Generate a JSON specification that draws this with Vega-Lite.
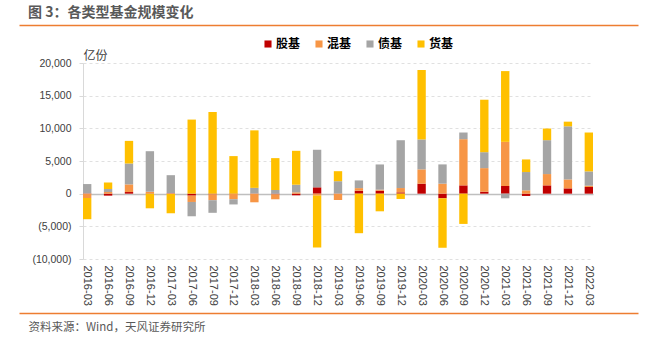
{
  "$schema": "https://vega.github.io/schema/vega-lite/v6.json",
  "width": 510,
  "height": 196,
  "autosize": "none",
  "padding": {"left": 83, "top": 63, "right": 73, "bottom": 80},
  "background": "white",
  "config": {"view": {"stroke": null}, "font": "Liberation Sans"},
  "title": {
    "text": "图 3：各类型基金规模变化",
    "anchor": "start",
    "frame": "group",
    "dx": -55,
    "offset": 5,
    "font": "Noto Sans CJK SC",
    "fontSize": 14,
    "fontWeight": "bold",
    "color": "#595959"
  },
  "data": {
    "values": [
      {"date": "2016-03", "type": "股基", "value": 50}, {"date": "2016-03", "type": "混基", "value": -660}, {"date": "2016-03", "type": "债基", "value": 1420}, {"date": "2016-03", "type": "货基", "value": -3250},
      {"date": "2016-06", "type": "股基", "value": -300}, {"date": "2016-06", "type": "混基", "value": 250}, {"date": "2016-06", "type": "债基", "value": 460}, {"date": "2016-06", "type": "货基", "value": 1000},
      {"date": "2016-09", "type": "股基", "value": 250}, {"date": "2016-09", "type": "混基", "value": 1170}, {"date": "2016-09", "type": "债基", "value": 3200}, {"date": "2016-09", "type": "货基", "value": 3460},
      {"date": "2016-12", "type": "股基", "value": 50}, {"date": "2016-12", "type": "混基", "value": 250}, {"date": "2016-12", "type": "债基", "value": 6200}, {"date": "2016-12", "type": "货基", "value": -2240},
      {"date": "2017-03", "type": "股基", "value": -50}, {"date": "2017-03", "type": "混基", "value": 80}, {"date": "2017-03", "type": "债基", "value": 2750}, {"date": "2017-03", "type": "货基", "value": -2950},
      {"date": "2017-06", "type": "股基", "value": -300}, {"date": "2017-06", "type": "混基", "value": -970}, {"date": "2017-06", "type": "债基", "value": -2190}, {"date": "2017-06", "type": "货基", "value": 11340},
      {"date": "2017-09", "type": "股基", "value": -100}, {"date": "2017-09", "type": "混基", "value": -900}, {"date": "2017-09", "type": "债基", "value": -1930}, {"date": "2017-09", "type": "货基", "value": 12500},
      {"date": "2017-12", "type": "股基", "value": -50}, {"date": "2017-12", "type": "混基", "value": -800}, {"date": "2017-12", "type": "债基", "value": -800}, {"date": "2017-12", "type": "货基", "value": 5750},
      {"date": "2018-03", "type": "股基", "value": 30}, {"date": "2018-03", "type": "混基", "value": -1320}, {"date": "2018-03", "type": "债基", "value": 860}, {"date": "2018-03", "type": "货基", "value": 8800},
      {"date": "2018-06", "type": "股基", "value": -100}, {"date": "2018-06", "type": "混基", "value": -760}, {"date": "2018-06", "type": "债基", "value": 560}, {"date": "2018-06", "type": "货基", "value": 4880},
      {"date": "2018-09", "type": "股基", "value": -250}, {"date": "2018-09", "type": "混基", "value": 200}, {"date": "2018-09", "type": "债基", "value": 1170}, {"date": "2018-09", "type": "货基", "value": 5190},
      {"date": "2018-12", "type": "股基", "value": 970}, {"date": "2018-12", "type": "混基", "value": -300}, {"date": "2018-12", "type": "债基", "value": 5750}, {"date": "2018-12", "type": "货基", "value": -7940},
      {"date": "2019-03", "type": "股基", "value": 30}, {"date": "2019-03", "type": "混基", "value": -970}, {"date": "2019-03", "type": "债基", "value": 1880}, {"date": "2019-03", "type": "货基", "value": 1530},
      {"date": "2019-06", "type": "股基", "value": 450}, {"date": "2019-06", "type": "混基", "value": 400}, {"date": "2019-06", "type": "债基", "value": 1180}, {"date": "2019-06", "type": "货基", "value": -6050},
      {"date": "2019-09", "type": "股基", "value": 460}, {"date": "2019-09", "type": "混基", "value": 150}, {"date": "2019-09", "type": "债基", "value": 3860}, {"date": "2019-09", "type": "货基", "value": -2700},
      {"date": "2019-12", "type": "股基", "value": 200}, {"date": "2019-12", "type": "混基", "value": 660}, {"date": "2019-12", "type": "债基", "value": 7320}, {"date": "2019-12", "type": "货基", "value": -810},
      {"date": "2020-03", "type": "股基", "value": 1530}, {"date": "2020-03", "type": "混基", "value": 2190}, {"date": "2020-03", "type": "债基", "value": 4580}, {"date": "2020-03", "type": "货基", "value": 10630},
      {"date": "2020-06", "type": "股基", "value": -710}, {"date": "2020-06", "type": "混基", "value": 1530}, {"date": "2020-06", "type": "债基", "value": 2950}, {"date": "2020-06", "type": "货基", "value": -7570},
      {"date": "2020-09", "type": "股基", "value": 1270}, {"date": "2020-09", "type": "混基", "value": 7070}, {"date": "2020-09", "type": "债基", "value": 1020}, {"date": "2020-09", "type": "货基", "value": -4630},
      {"date": "2020-12", "type": "股基", "value": 300}, {"date": "2020-12", "type": "混基", "value": 3610}, {"date": "2020-12", "type": "债基", "value": 2440}, {"date": "2020-12", "type": "货基", "value": 8030},
      {"date": "2021-03", "type": "股基", "value": 1170}, {"date": "2021-03", "type": "混基", "value": 6760}, {"date": "2021-03", "type": "债基", "value": -710}, {"date": "2021-03", "type": "货基", "value": 10830},
      {"date": "2021-06", "type": "股基", "value": -350}, {"date": "2021-06", "type": "混基", "value": 510}, {"date": "2021-06", "type": "债基", "value": 2800}, {"date": "2021-06", "type": "货基", "value": 1930},
      {"date": "2021-09", "type": "股基", "value": 1270}, {"date": "2021-09", "type": "混基", "value": 1730}, {"date": "2021-09", "type": "债基", "value": 5190}, {"date": "2021-09", "type": "货基", "value": 1780},
      {"date": "2021-12", "type": "股基", "value": 810}, {"date": "2021-12", "type": "混基", "value": 1370}, {"date": "2021-12", "type": "债基", "value": 8130}, {"date": "2021-12", "type": "货基", "value": 710},
      {"date": "2022-03", "type": "股基", "value": 1020}, {"date": "2022-03", "type": "混基", "value": 200}, {"date": "2022-03", "type": "债基", "value": 2190}, {"date": "2022-03", "type": "货基", "value": 5950}
    ]
  },
  "layer": [
    {
      "transform": [{"calculate": "indexof(['股基','混基','债基','货基'], datum.type)", "as": "k"}],
      "mark": {"type": "bar"},
      "encoding": {
        "x": {
          "field": "date",
          "type": "ordinal",
          "scale": {"paddingInner": 0.6, "paddingOuter": 0},
          "axis": {
            "title": null,
            "labelAngle": 90,
            "labelAlign": "left",
            "labelBaseline": "middle",
            "domain": false,
            "ticks": false,
            "grid": false,
            "labelPadding": 6,
            "labelFont": "Liberation Sans",
            "labelFontSize": 11,
            "labelColor": "#404040"
          }
        },
        "y": {
          "field": "value",
          "type": "quantitative",
          "scale": {"domain": [-10000, 20000], "nice": false},
          "axis": {
            "values": [-10000, -5000, 0, 5000, 10000, 15000, 20000],
            "labelExpr": "datum.value < 0 ? '(' + format(-datum.value, ',') + ')' : format(datum.value, ',')",
            "labelFont": "Liberation Sans",
            "labelFontSize": 10.5,
            "labelColor": "#404040",
            "labelPadding": 8,
            "tickSize": 4,
            "tickColor": "#D9D9D9",
            "domainColor": "#D9D9D9",
            "gridColor": {"condition": {"test": "datum.value === 0", "value": "#BFBFBF"}, "value": "#E0E0E0"},
            "gridDash": {"condition": {"test": "datum.value === 0", "value": []}, "value": [3, 3]},
            "gridWidth": {"condition": {"test": "datum.value === 0", "value": 1.5}, "value": 1},
            "title": "亿份",
            "titleAngle": 0,
            "titleX": 0,
            "titleY": -8,
            "titleAlign": "left",
            "titleBaseline": "middle",
            "titleFont": "Noto Sans CJK SC",
            "titleFontSize": 12,
            "titleFontWeight": "normal",
            "titleColor": "#404040"
          }
        },
        "color": {
          "field": "type",
          "type": "nominal",
          "sort": ["股基", "混基", "债基", "货基"],
          "scale": {"domain": ["股基", "混基", "债基", "货基"], "range": ["#C00000", "#F79646", "#A5A5A5", "#FFC000"]},
          "legend": {
            "title": null,
            "orient": "none",
            "direction": "horizontal",
            "legendX": 179,
            "legendY": -25,
            "symbolType": "square",
            "symbolSize": 50,
            "symbolStrokeWidth": 0,
            "labelFont": "Noto Sans CJK SC",
            "labelFontSize": 12,
            "labelFontWeight": "bold",
            "labelColor": "#000000",
            "labelOffset": 2,
            "columnPadding": 12
          }
        },
        "order": {"field": "k", "type": "quantitative", "sort": "ascending"}
      }
    },
    {
      "mark": {"type": "rule", "opacity": 0},
      "encoding": {
        "x": {
          "datum": 0.5,
          "type": "quantitative",
          "scale": {"domain": [0, 1], "range": [-64, 555], "nice": false, "zero": false},
          "axis": {
            "orient": "bottom",
            "offset": -234,
            "domainColor": "#ED7D31",
            "domainWidth": 1.5,
            "labels": false,
            "ticks": false,
            "grid": false,
            "title": null
          }
        }
      }
    },
    {
      "mark": {"type": "rule", "opacity": 0},
      "encoding": {
        "x": {
          "datum": 0.5,
          "type": "quantitative",
          "scale": {"domain": [0, 1], "range": [-64, 555], "nice": false, "zero": false},
          "axis": {
            "orient": "bottom",
            "offset": 54,
            "domainColor": "#ED7D31",
            "domainWidth": 1.5,
            "labels": false,
            "ticks": false,
            "grid": false,
            "title": "资料来源：Wind，天风证券研究所",
            "titleX": -55,
            "titleY": 14,
            "titleAlign": "left",
            "titleBaseline": "middle",
            "titleFont": "Noto Sans CJK SC",
            "titleFontSize": 11.5,
            "titleFontWeight": "normal",
            "titleColor": "#595959"
          }
        }
      }
    }
  ],
  "resolve": {"scale": {"x": "independent"}, "axis": {"x": "independent"}}
}
